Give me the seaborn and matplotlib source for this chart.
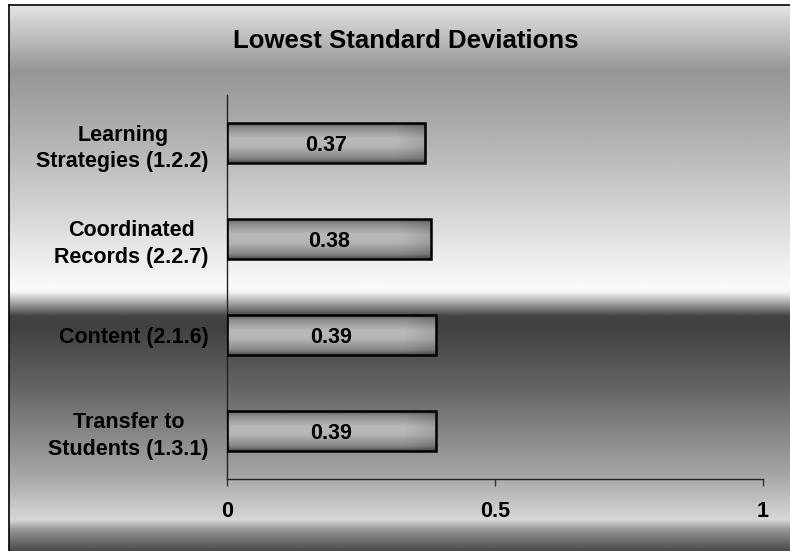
import numpy as np
import pandas as pd
import matplotlib
matplotlib.use("Agg")
import matplotlib.pyplot as plt
from matplotlib.lines import Line2D
import seaborn as sns

# Chart data
categories = [
    "Learning\nStrategies (1.2.2)",
    "Coordinated\nRecords (2.2.7)",
    "Content (2.1.6)",
    "Transfer to\nStudents (1.3.1)",
]
std_devs = [0.37, 0.38, 0.39, 0.39]
value_labels = ["0.37", "0.38", "0.39", "0.39"]
x_ticks = [0, 0.5, 1]
x_tick_labels = ["0", "0.5", "1"]
title = "Lowest Standard Deviations"

df = pd.DataFrame({"category": categories, "sd": std_devs})

W, H, DPI = 790, 551, 100
fig = plt.figure(figsize=(W / DPI, H / DPI), dpi=DPI, facecolor="white")
plt.rcParams["font.family"] = ["Liberation Sans", "DejaVu Sans"]
plt.rcParams["font.weight"] = "bold"

# --- chrome style background -------------------------------------------
bg = fig.add_axes([0, 0, 1, 1], zorder=0)
bg.set_axis_off()
bg.set_xlim(0, W)
bg.set_ylim(H, 0)
stops_y = [5, 70, 105, 176, 246, 288, 292, 316, 327, 387, 474, 520, 530, 551]
stops_v = [228, 150, 163, 195, 230, 250, 245, 68, 65, 100, 165, 215, 150, 75]
rows = np.arange(5, H + 1)
grad = np.interp(rows, stops_y, stops_v)[:, None]
bg.imshow(grad, cmap="gray", vmin=0, vmax=255, aspect="auto",
          extent=(9, W, H, 5), interpolation="bilinear")
bg.add_line(Line2D([9, W], [5, 5], color="black", lw=1.2))
bg.add_line(Line2D([9, 9], [5, H], color="black", lw=1.2))
bg.set_xlim(0, W)
bg.set_ylim(H, 0)

# --- main plot ------------------------------------------------------------
ax = fig.add_axes([227 / W, 1 - 479 / H, (763 - 227) / W, (479 - 95) / H], zorder=1)
ax.patch.set_alpha(0)
sns.barplot(data=df, x="sd", y="category", orient="h", width=0.42,
            color="#a8a8a8", edgecolor="black", linewidth=1.8, ax=ax)

# cylinder-like shading inside each bar
t = np.linspace(0, 1, 60)
profile = np.interp(t, [0, 0.12, 0.4, 0.6, 0.88, 1], [80, 135, 185, 180, 135, 80])
for p in ax.patches:
    x0, y0, w, h = p.get_x(), p.get_y(), p.get_width(), p.get_height()
    xs = np.linspace(0, 1, 80)
    shade = 1 - 0.12 * np.clip((xs - 0.85) / 0.15, 0, 1)
    img = profile[:, None] * shade[None, :]
    im = ax.imshow(img, cmap="gray", vmin=0, vmax=255, aspect="auto",
                   extent=(x0, x0 + w, y0 + h, y0), interpolation="bilinear",
                   zorder=2)
    im.set_clip_path(p)
    p.set_facecolor("none")
    p.set_zorder(3)

for i, (v, lab) in enumerate(zip(std_devs, value_labels)):
    ax.text(v / 2, i, lab, ha="center", va="center_baseline", fontsize=15.5,
            fontweight="bold", color="black", zorder=4)

ax.set_xlim(0, 1)
ax.set_ylim(3.5, -0.5)
ax.set_xticks(x_ticks)
ax.set_xticklabels(x_tick_labels, fontsize=15.5, fontweight="bold")
ax.set_yticks(range(len(categories)))
ax.set_yticklabels(categories, fontsize=15.5, fontweight="bold")
for lbl in ax.get_yticklabels():
    lbl.set_multialignment("center")
    lbl.set_linespacing(1.35)
ax.set_xlabel("")
ax.set_ylabel("")
ax.tick_params(axis="x", length=5, width=1, color="#333333", pad=11)
ax.tick_params(axis="y", length=0, pad=13)
for s in ["top", "right"]:
    ax.spines[s].set_visible(False)
for s in ["left", "bottom"]:
    ax.spines[s].set_color("#222222")
    ax.spines[s].set_linewidth(1)

fig.text(405.5 / W, 1 - 41 / H, title, ha="center", va="center",
         fontsize=18.5, fontweight="bold")

fig.savefig("out.png", dpi=DPI)
